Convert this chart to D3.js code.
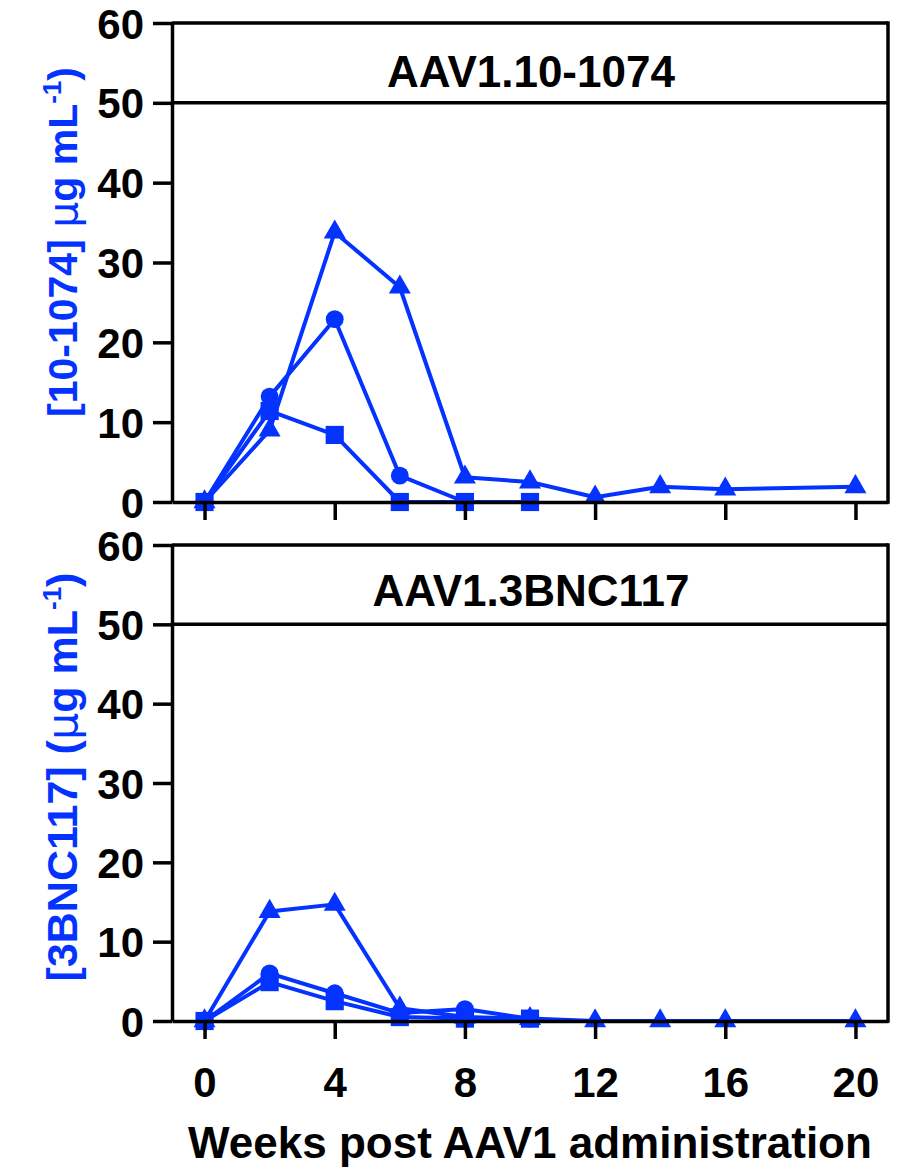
<!DOCTYPE html>
<html>
<head>
<meta charset="utf-8">
<script src="https://cdn.jsdelivr.net/npm/d3@7"></script>
<style>
  body { margin: 0; background: #fff; }
  svg text { font-family: "Liberation Sans", Arial, Helvetica, sans-serif; }
</style>
</head>
<body>
<svg id="chart" width="900" height="1169"></svg>
<script>
// weeks post administration
var weeks = [0, 2, 4, 6, 8, 10, 12, 14, 16, 20];
var xTicks = [0, 4, 8, 12, 16, 20];
var yTicks = [0, 10, 20, 30, 40, 50, 60];

// 10-1074 panel
var top_circle   = [0, 13.2, 22.9, 3.3, 0, 0];
var top_square   = [0, 11.4, 8.4, 0, 0, 0];
var top_triangle = [0, 9.0, 33.8, 26.9, 3.1, 2.5, 0.6, 1.9, 1.6, 1.9];

// 3BNC117 panel
var bot_circle   = [0, 6.0, 3.5, 1.0, 1.5, 0.3];
var bot_square   = [0, 4.9, 2.5, 0.5, 0.3, 0.3];
var bot_triangle = [0, 13.8, 14.7, 1.6, 0.5, 0.3, 0, 0, 0, 0];

var blue = "#0433ff";
var svg = d3.select("#chart");

var x = d3.scaleLinear().domain([-1, 21]).range([172, 888]);

function panel(opts){
  var y = d3.scaleLinear().domain([0, 60]).range([opts.bottom, opts.top]);
  var g = svg.append("g");

  // series
  var series = [
    {vals: opts.circle, sym: d3.symbolCircle, size: 250},
    {vals: opts.square, sym: d3.symbolSquare, size: 330},
    {vals: opts.triangle, sym: d3.symbolTriangle, size: 210}
  ];
  var line = d3.line().x(function(d){ return x(d[0]); }).y(function(d){ return y(d[1]); });

  series.forEach(function(s){
    var pts = s.vals.map(function(v, i){ return [weeks[i], v]; });
    g.append("path")
      .attr("d", line(pts))
      .attr("fill", "none")
      .attr("stroke", blue)
      .attr("stroke-width", 4)
      .attr("stroke-linejoin", "round");
    g.selectAll(null).data(pts).enter().append("path")
      .attr("d", d3.symbol().type(s.sym).size(s.size))
      .attr("transform", function(d){ return "translate(" + x(d[0]) + "," + y(d[1]) + ")"; })
      .attr("fill", blue);
  });

  // frame: top, 50 line, right
  g.append("line").attr("x1", 172).attr("x2", 888).attr("y1", y(60)).attr("y2", y(60))
    .attr("stroke", "#000").attr("stroke-width", 3.5);
  g.append("line").attr("x1", 172).attr("x2", 888).attr("y1", y(50)).attr("y2", y(50))
    .attr("stroke", "#000").attr("stroke-width", 3.5);
  g.append("line").attr("x1", 888).attr("x2", 888).attr("y1", y(60) - 1.75).attr("y2", y(0) + 1.75)
    .attr("stroke", "#000").attr("stroke-width", 3.5);

  // y axis
  var yAxis = g.append("g").attr("transform", "translate(172,0)")
    .call(d3.axisLeft(y).tickValues(yTicks).tickSize(19).tickPadding(9).tickSizeOuter(0));
  yAxis.select(".domain").attr("stroke-width", 3.5);
  yAxis.selectAll(".tick line").attr("stroke-width", 3.5);
  yAxis.selectAll(".tick text").attr("font-size", 42).attr("font-weight", "bold").attr("fill", "#000")
    .attr("dy", "0.36em");

  // x axis
  var xAxis = g.append("g").attr("transform", "translate(0," + y(0) + ")")
    .call(d3.axisBottom(x).tickValues(xTicks).tickSize(18).tickPadding(28).tickSizeOuter(0));
  xAxis.select(".domain").attr("stroke-width", 3.5);
  xAxis.selectAll(".tick line").attr("stroke-width", 3.5);
  xAxis.selectAll(".tick text").attr("font-size", 42).attr("font-weight", "bold").attr("fill", "#000")
    .style("display", opts.xLabels ? null : "none");

  // title in band
  g.append("text")
    .attr("x", 531).attr("y", y(60) + opts.titleDy)
    .attr("text-anchor", "middle")
    .attr("font-size", 44).attr("font-weight", "bold")
    .text(opts.title);

  // y title
  var t = g.append("text")
    .attr("transform", "translate(77," + opts.ymid + ") rotate(-90)")
    .attr("text-anchor", "middle")
    .attr("font-size", opts.yfont).attr("font-weight", "bold").attr("fill", blue);
  t.append("tspan").text(opts.ylabel);
  t.append("tspan").attr("font-weight", "normal").attr("font-family", "DejaVu Sans").text("\u03bc");
  t.append("tspan").text("g mL");
  t.append("tspan").attr("font-size", 26).attr("dy", -16).text("-1");
  t.append("tspan").attr("dy", 16).text(")");
}

panel({top: 23, bottom: 502, circle: top_circle, square: top_square, triangle: top_triangle,
  title: "AAV1.10-1074", titleDy: 64, ylabel: "[10-1074] ", ymid: 242, yfont: 41, xLabels: false});
panel({top: 545, bottom: 1021, circle: bot_circle, square: bot_square, triangle: bot_triangle,
  title: "AAV1.3BNC117", titleDy: 61, ylabel: "[3BNC117] (", ymid: 777, yfont: 43, xLabels: true});

svg.append("text")
  .attr("x", 530).attr("y", 1158)
  .attr("text-anchor", "middle")
  .attr("font-size", 44).attr("font-weight", "bold")
  .text("Weeks post AAV1 administration");
</script>
</body>
</html>
